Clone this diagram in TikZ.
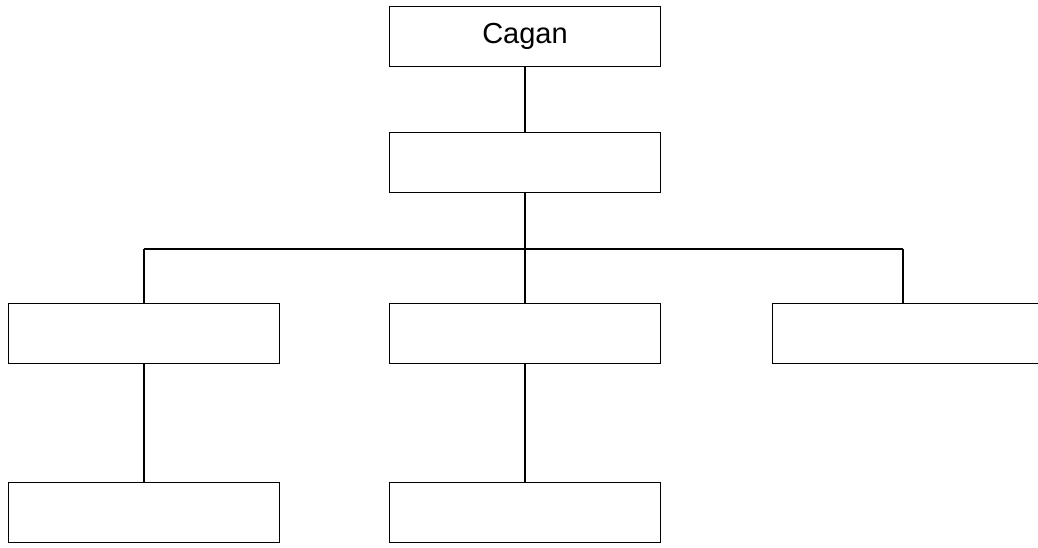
\documentclass[tikz,border=0pt]{standalone}
\usepackage{fontspec}
\setmainfont{Liberation Sans}
\begin{document}
\begin{tikzpicture}[x=1pt,y=-1pt,
  box/.style={draw=black,line width=1.8pt,rectangle,minimum width=271pt,minimum height=60pt,inner sep=0pt,outer sep=0pt,font=\fontsize{29}{34}\selectfont},
  conn/.style={draw=black,line width=1.8pt}]
\useasboundingbox (0,0) rectangle (1038,547);
\clip (0,0) rectangle (1038,547);
\fill[white] (0,0) rectangle (1038,547);
\node[box] (top) at (525,36.5) {Cagan};
\node[box] (mid) at (525,162.5) {};
\node[box] (l) at (144,333.5) {};
\node[box] (c) at (525,333.5) {};
\node[box] (r) at (908,333.5) {};
\node[box] (bl) at (144,512.5) {};
\node[box] (bc) at (525,512.5) {};
\coordinate (busL) at (144,249);
\coordinate (busM) at (525,249);
\coordinate (busR) at (903,249);
\draw[conn] (top) -- (mid);
\draw[conn] (mid.south) -- (busM);
\draw[conn] (busL) -- (busR);
\draw[conn] (busL) -- (l.north);
\draw[conn] (busM) -- (c.north);
\draw[conn] (busR) -- (busR |- r.north);
\draw[conn] (l) -- (bl);
\draw[conn] (c) -- (bc);
\end{tikzpicture}
\end{document}
